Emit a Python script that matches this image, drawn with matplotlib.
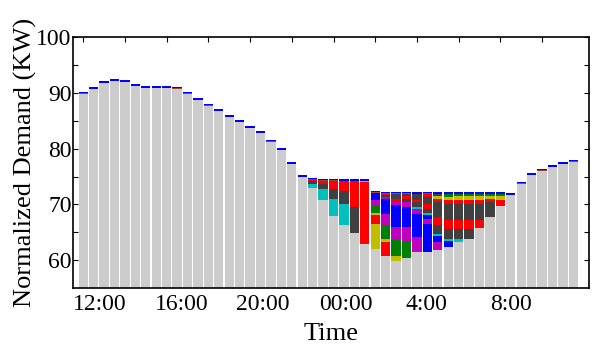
import numpy as np
import matplotlib
matplotlib.use("Agg")
import matplotlib.pyplot as plt
from matplotlib.ticker import FixedLocator, NullFormatter

# ---------------- data ----------------
# gray (non-shiftable) demand per half-hour slot, 48 slots
base_kw = [89.85, 90.69, 91.77, 92.13, 91.95, 91.23, 90.87, 90.87, 90.87, 90.75,
           89.85, 88.71, 87.69, 86.73, 85.65, 84.76, 83.68, 82.78, 81.22, 79.72,
           77.20, 74.86, 72.90, 70.87, 67.87, 66.24, 64.86, 62.95, 61.93, 60.80,
           59.80, 60.37, 61.50, 61.40, 61.80, 62.30, 63.30, 63.80, 65.80, 67.80,
           69.75, 71.68, 73.75, 75.25, 76.05, 76.65, 77.20, 77.70]

# shifted loads stacked on top of the gray demand (bottom -> top), per slot
seg22 = [('c', 0.84), ('k', 0.47), ('r', 0.25)]
seg23 = [('c', 1.86), ('k', 1.02), ('r', 0.48)]
seg24 = [('c', 3.18), ('k', 1.80), ('r', 1.38)]
seg25 = [('c', 3.90), ('k', 2.22), ('r', 1.79)]
seg26 = [('k', 4.68), ('r', 4.61)]
seg27 = [('r', 11.02), ('y', 0.24)]
seg28 = [('y', 4.50), ('r', 1.73), ('y', 0.36), ('g', 1.32), ('m', 0.90), ('b', 1.38)]
seg29 = [('r', 2.45), ('y', 0.60), ('g', 2.40), ('m', 2.09), ('b', 2.58), ('m', 0.42),
         ('k', 0.36), ('r', 0.24)]
seg30 = [('y', 0.87), ('g', 3.00), ('m', 2.28), ('b', 3.89), ('m', 0.60), ('r', 0.60),
         ('k', 0.86)]
seg31 = [('g', 3.00), ('m', 2.58), ('b', 3.59), ('m', 0.90), ('k', 0.60), ('r', 0.42),
         ('k', 0.48)]
seg32 = [('m', 2.65), ('b', 4.19), ('m', 0.90), ('c', 0.30), ('k', 0.90), ('r', 0.42),
         ('k', 1.02)]
seg33 = [('b', 5.14), ('m', 0.90), ('b', 0.70), ('c', 0.30), ('k', 0.78), ('r', 0.90),
         ('k', 1.20), ('r', 0.60)]
seg34 = [('m', 1.44), ('b', 1.02), ('c', 0.36), ('k', 1.62), ('r', 1.50), ('k', 2.70),
         ('r', 0.60), ('y', 0.42), ('k', 0.42)]
seg35 = [('b', 1.06), ('c', 0.36), ('k', 1.92), ('r', 1.50), ('k', 3.00), ('r', 0.72),
         ('y', 0.48), ('g', 0.48)]
seg36 = [('c', 0.42), ('k', 1.92), ('r', 1.50), ('k', 3.00), ('r', 0.72), ('y', 0.60),
         ('g', 0.36)]
seg37 = [('k', 1.84), ('r', 1.50), ('k', 3.00), ('r', 0.72), ('y', 0.60), ('g', 0.36)]
seg38 = [('r', 1.46), ('k', 2.88), ('r', 0.72), ('y', 0.60), ('g', 0.36)]
seg39 = [('k', 2.64), ('r', 0.60), ('y', 0.48), ('g', 0.30)]
seg40 = [('r', 0.99), ('y', 0.72), ('g', 0.36)]

shifted_slots = list(range(22, 41))
shifted_loads = [seg22, seg23, seg24, seg25, seg26, seg27, seg28, seg29, seg30, seg31,
                 seg32, seg33, seg34, seg35, seg36, seg37, seg38, seg39, seg40]

cap_kw = 0.28      # small load always on top
time_labels = ['12:00', '16:00', '20:00', '00:00', '4:00', '8:00']

# ---------------- style ----------------
colors = {'b': '#0000ff', 'g': '#008000', 'r': '#ff0000', 'c': '#00bfbf',
          'm': '#bf00bf', 'y': '#bfbf00', 'k': '#404040'}
plt.rcParams['font.family'] = ['Liberation Serif', 'DejaVu Serif']
FS = 17
LFS = 19

fig = plt.figure(figsize=(6.0, 3.47), dpi=100)
ax = fig.add_axes([73 / 600, 1 - 288 / 347, (589 - 73) / 600, (288 - 37.3) / 347])

x = np.arange(len(base_kw))
W = 0.9
ax.bar(x, base_kw, width=W, color='#cccccc', linewidth=0, zorder=1)
bottom = np.array(base_kw, dtype=float)
for slot, segs in zip(shifted_slots, shifted_loads):
    for c, h in segs:
        ax.bar(slot, h, bottom=bottom[slot], width=W, color=colors[c], linewidth=0, zorder=1)
        bottom[slot] += h
ax.bar(x, np.full(len(x), 0.08), bottom=bottom, width=W, color='#a04040', linewidth=0, zorder=1)
bottom = bottom + 0.08
ax.bar(x, np.full(len(x), cap_kw), bottom=bottom, width=W, color='#0000ff', linewidth=0, zorder=1)

ax.set_xlim(-0.98, 48.5)
ax.set_ylim(55, 100)

ax.xaxis.set_major_locator(FixedLocator(np.arange(0, 48, 4)))
ax.xaxis.set_major_formatter(NullFormatter())
label_pos = [1.6, 9.48, 17.25, 25.17, 32.95, 41.0]
ax.xaxis.set_minor_locator(FixedLocator(label_pos))
ax.set_xticklabels(time_labels, minor=True)
ax.tick_params(axis='x', which='major', direction='in', top=True, bottom=False,
               length=3.5, width=0.8)
ax.tick_params(axis='x', which='minor', length=0, pad=4, labelsize=FS)

ax.yaxis.set_major_locator(FixedLocator([60, 70, 80, 90, 100]))
ax.yaxis.set_minor_locator(FixedLocator([65, 75, 85, 95]))
ax.tick_params(axis='y', which='both', direction='in', left=True, right=True,
               length=3.5, width=0.8, pad=1, labelsize=FS)

for s in ax.spines.values():
    s.set_linewidth(1.2)
    s.set_zorder(3)

ax.set_xlabel('Time', fontsize=LFS, labelpad=6)
ax.set_ylabel('Normalized Demand (KW)', fontsize=LFS, labelpad=-0.5)

fig.savefig('out.png', dpi=100)
